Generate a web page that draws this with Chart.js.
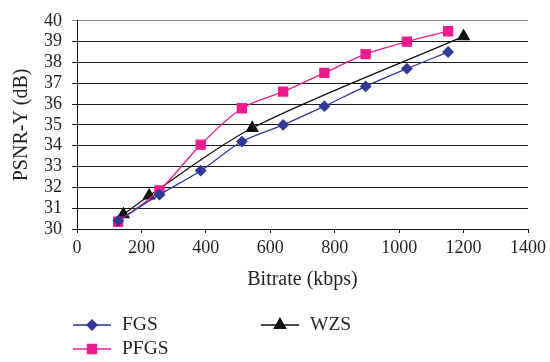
<!DOCTYPE html>
<html>
<head>
<meta charset="utf-8">
<script src="https://cdn.jsdelivr.net/npm/chart.js@4/dist/chart.umd.min.js"></script>
<style>
  html, body { margin: 0; padding: 0; background: #fff; }
  #wrap { width: 550px; height: 362px; position: relative; }
</style>
</head>
<body>
<div id="wrap"><canvas id="c" width="550" height="362"></canvas></div>
<script>
// Bitrate (kbps) sample points
const fgsRate  = [128, 256, 384, 512, 640, 768, 896, 1024, 1152];
const pfgsRate = [128, 256, 384, 512, 640, 768, 896, 1024, 1152];
const wzsRate  = [144, 224, 544, 1200];

// PSNR-Y (dB)
const fgsPsnr  = [30.4, 31.65, 32.8, 34.2, 35.0, 35.9, 36.85, 37.7, 38.5];
const pfgsPsnr = [30.35, 31.85, 34.05, 35.8, 36.6, 37.5, 38.4, 39.0, 39.5];
const wzsPsnr  = [30.7, 31.6, 34.85, 39.25];

const seriesNames = ['FGS', 'PFGS', 'WZS'];
const xTicks = [0, 200, 400, 600, 800, 1000, 1200, 1400];
const yTicks = [30, 31, 32, 33, 34, 35, 36, 37, 38, 39, 40];

const TEXT = '#231f20';
const SERIF = "'Liberation Serif', 'DejaVu Serif', serif";

const pts = (xs, ys) => xs.map((x, i) => ({ x: x, y: ys[i] }));

// Two-column legend drawn below the axis title
const legendPlugin = {
  id: 'gridLegend',
  afterDraw(chart) {
    const ctx = chart.ctx;
    const slots = [
      { ds: 0, x: 73, y: 325 },
      { ds: 2, x: 261, y: 325 },
      { ds: 1, x: 73, y: 349 }
    ];
    ctx.save();
    slots.forEach(s => {
      const d = chart.data.datasets[s.ds];
      ctx.strokeStyle = d.borderColor;
      ctx.lineWidth = 1.4;
      ctx.beginPath();
      ctx.moveTo(s.x, s.y);
      ctx.lineTo(s.x + 38, s.y);
      ctx.stroke();
      ctx.fillStyle = d.pointBackgroundColor;
      ctx.strokeStyle = d.borderColor;
      Chart.helpers.drawPoint(ctx, {
        pointStyle: d.pointStyle, radius: d.pointRadius, rotation: 0, borderWidth: 1
      }, s.x + 19, s.y);
      ctx.fillStyle = TEXT;
      ctx.font = '19.5px ' + SERIF;
      ctx.textBaseline = 'middle';
      ctx.textAlign = 'left';
      ctx.fillText(d.label, s.x + 49, s.y);
    });
    ctx.restore();
  }
};

new Chart(document.getElementById('c'), {
  type: 'scatter',
  data: {
    datasets: [
      {
        label: seriesNames[0],
        data: pts(fgsRate, fgsPsnr),
        showLine: true,
        borderColor: '#2e3a96',
        backgroundColor: '#2e3a96',
        pointBackgroundColor: '#2e3a96',
        pointStyle: 'rectRot',
        pointRadius: 5,
        borderWidth: 1.3,
        tension: 0.3
      },
      {
        label: seriesNames[1],
        data: pts(pfgsRate, pfgsPsnr),
        showLine: true,
        borderColor: '#ec1c8e',
        backgroundColor: '#ec1c8e',
        pointBackgroundColor: '#ec1c8e',
        pointStyle: 'rect',
        pointRadius: 6.4,
        borderWidth: 1.3,
        tension: 0.3
      },
      {
        label: seriesNames[2],
        data: pts(wzsRate, wzsPsnr),
        showLine: true,
        borderColor: '#111111',
        backgroundColor: '#111111',
        pointBackgroundColor: '#111111',
        pointStyle: 'triangle',
        pointRadius: 6.5,
        borderWidth: 1.3,
        tension: 0.3
      }
    ]
  },
  options: {
    responsive: false,
    animation: false,
    layout: { padding: { top: 15, right: 22, left: 0, bottom: 70 } },
    plugins: {
      legend: { display: false },
      tooltip: { enabled: false }
    },
    scales: {
      x: {
        type: 'linear',
        min: 0,
        max: 1400,
        afterBuildTicks(scale) { scale.ticks = xTicks.map(v => ({ value: v })); },
        afterFit(scale) { scale.height = 63; },
        grid: { drawOnChartArea: false, drawTicks: true, tickLength: 4, color: '#111', lineWidth: 1 },
        border: { display: true, color: '#111', width: 1 },
        ticks: {
          color: TEXT, font: { family: SERIF, size: 18 }, padding: 4,
          maxRotation: 0, autoSkip: false, callback: v => String(v)
        },
        title: {
          display: true, text: 'Bitrate (kbps)', color: TEXT,
          font: { family: SERIF, size: 20 }, padding: { top: 0, bottom: 0 }
        }
      },
      y: {
        type: 'linear',
        min: 30,
        max: 40,
        afterBuildTicks(scale) { scale.ticks = yTicks.map(v => ({ value: v })); },
        afterFit(scale) { scale.width = 77; },
        grid: {
          drawOnChartArea: true, drawTicks: true, tickLength: 5, lineWidth: 1,
          color: ctx => (ctx.tick && ctx.tick.value === 40 ? '#8a8a8a' : '#1a1a1a')
        },
        border: { display: true, color: '#111', width: 1 },
        ticks: {
          color: TEXT, font: { family: SERIF, size: 18 }, padding: 10,
          autoSkip: false, callback: v => String(v)
        },
        title: {
          display: true, text: 'PSNR-Y (dB)', color: TEXT,
          font: { family: SERIF, size: 20 }, padding: { top: 10, bottom: 0 }
        }
      }
    }
  },
  plugins: [legendPlugin]
});
</script>
</body>
</html>
